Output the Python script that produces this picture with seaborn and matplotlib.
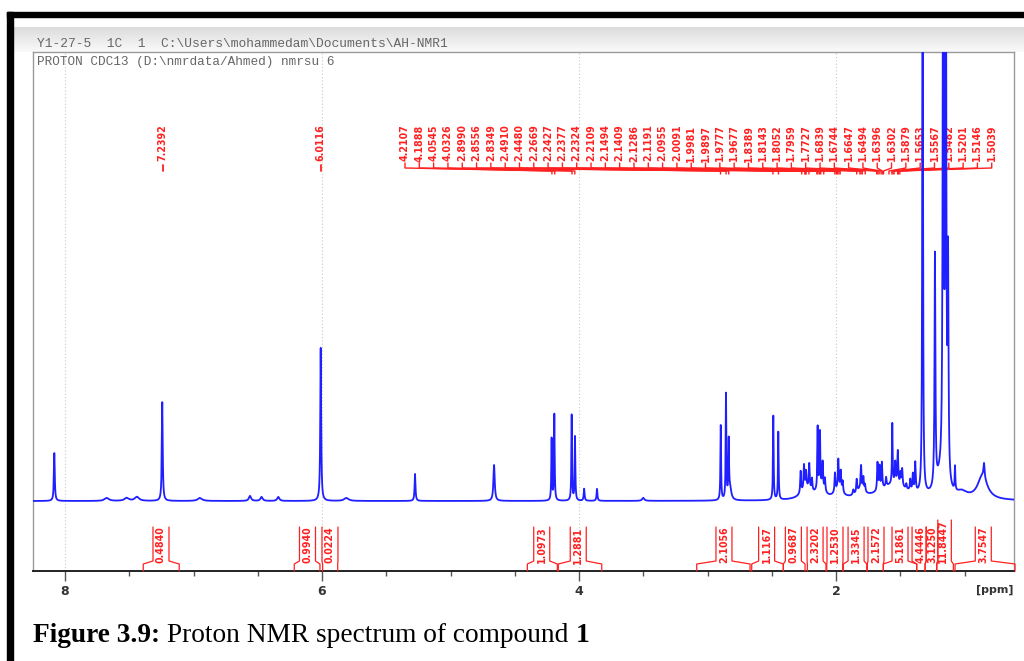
import numpy as np
import pandas as pd
import matplotlib
matplotlib.use("Agg")
import matplotlib.pyplot as plt
import seaborn as sns
import matplotlib.font_manager as fm
from matplotlib.patches import Rectangle
from matplotlib.transforms import blended_transform_factory

# ---------------- data ----------------
peak_ppm = [8.083, 7.675, 7.52, 7.44, 7.243, 6.95, 6.56, 6.47, 6.34, 6.010, 5.81,
            5.276, 4.661, 4.213, 4.192, 4.057, 4.031, 3.96, 3.86, 3.50,
            2.897, 2.856, 2.835, 2.825, 2.488, 2.449,
            2.275, 2.249, 2.233, 2.208, 2.187, 2.23,
            2.143, 2.125, 2.104, 2.086, 2.12,
            2.008, 1.982, 1.963, 1.948, 1.98,
            1.865, 1.839, 1.805, 1.787, 1.774, 1.81,
            1.55, 1.677, 1.661, 1.643, 1.610, 1.562, 1.539, 1.519, 1.498, 1.485,
            1.453, 1.422, 1.402, 1.383,
            1.326, 1.23, 1.19, 1.166, 1.146, 1.128, 1.074, 1.02,
            0.848, 0.86]
peak_height = [48, 3, 3, 4, 99, 3, 5, 4, 4, 153, 3,
               27, 36, 62, 86, 86, 64, 12, 12, 3,
               75, 105, 55, 12, 84, 68,
               22, 24, 16, 25, 12, 11,
               62, 54, 26, 13, 11,
               19, 29, 19, 11, 9,
               5, 13, 23, 13, 7, 8,
               16, 28, 23, 26, 9, 60, 21, 33, 12, 17,
               5, 11, 17, 29,
               700, 232, 18, 700, 700, 215, 24, 6,
               14, 24]
peak_hwhm = [0.004, 0.02, 0.02, 0.02, 0.004, 0.02, 0.01, 0.01, 0.01, 0.004, 0.02,
             0.004, 0.006, 0.003, 0.003, 0.003, 0.003, 0.004, 0.004, 0.01,
             0.003, 0.003, 0.003, 0.012, 0.003, 0.003,
             0.004, 0.004, 0.004, 0.004, 0.004, 0.05,
             0.003, 0.003, 0.004, 0.004, 0.035,
             0.004, 0.004, 0.004, 0.004, 0.035,
             0.005, 0.004, 0.004, 0.004, 0.004, 0.035,
             0.13, 0.004, 0.004, 0.004, 0.004, 0.003, 0.004, 0.004, 0.004, 0.004,
             0.004, 0.004, 0.004, 0.004,
             0.003, 0.004, 0.04, 0.004, 0.004, 0.004, 0.003, 0.05,
             0.005, 0.045]

multi_labels = [4.2107, 4.1888, 4.0545, 4.0326, 2.8990, 2.8556, 2.8349, 2.4910,
                2.4480, 2.2669, 2.2427, 2.2377, 2.2324, 2.2109, 2.1494, 2.1409,
                2.1286, 2.1191, 2.0955, 2.0091, 1.9981, 1.9897, 1.9777, 1.9677,
                1.8389, 1.8143, 1.8052, 1.7959, 1.7727, 1.6839, 1.6744, 1.6647,
                1.6494, 1.6396, 1.6302, 1.5879, 1.5653, 1.5567, 1.5482, 1.5201,
                1.5146, 1.5039]
single_labels = [7.2392, 6.0116]

integ_start = [7.391, 6.216, 5.995, 4.402, 4.161, 3.084, 2.656, 2.410, 2.223,
               2.072, 1.943, 1.756, 1.632, 1.372, 1.307, 1.216, 1.074]
integ_end = [7.111, 6.016, 5.878, 4.169, 3.823, 2.669, 2.410, 2.241, 2.078,
             1.948, 1.761, 1.632, 1.372, 1.307, 1.216, 1.087, 0.607]
integ_center = [7.253, 6.113, 5.938, 4.290, 4.006, 2.872, 2.540, 2.332, 2.163,
                2.008, 1.844, 1.689, 1.502, 1.346, 1.251, 1.165, 0.854]
integ_value = [0.4840, 0.9940, 0.0224, 1.0973, 1.2881, 2.1056, 1.1167, 0.9687,
               2.3202, 1.2530, 1.3345, 2.1572, 5.1861, 4.4446, 3.1250, 11.8447,
               3.7547]

major_ticks = [8, 6, 4, 2]
header_line1 = "Y1-27-5  1C  1  C:\\Users\\mohammedam\\Documents\\AH-NMR1"
header_line2 = "PROTON CDC13 (D:\\nmrdata/Ahmed) nmrsu 6"
caption_parts = [("Figure 3.9:", "bold"), (" Proton NMR spectrum of compound ", "normal"), ("1", "bold")]

# ---------------- build spectrum from peak list ----------------
ppm = np.arange(0.60, 8.26, 0.0004)
spec = np.zeros_like(ppm)
for c, h, w in zip(peak_ppm, peak_height, peak_hwhm):
    spec += h * w**2 / ((ppm - c)**2 + w**2)
df = pd.DataFrame({"ppm": ppm, "I": spec})

# ---------------- styling ----------------
sns.set_theme(style="white")
plt.rcParams["font.family"] = ["DejaVu Sans"]

def pick(fams):
    for f in fams:
        try:
            fm.findfont(fm.FontProperties(family=f), fallback_to_default=False)
            return f
        except Exception:
            pass
    return "DejaVu Sans"

narrow = pick(["Liberation Sans Narrow", "Arial Narrow", "DejaVu Sans Condensed", "DejaVu Sans"])
serif = pick(["Liberation Serif", "DejaVu Serif"])
mono = pick(["Liberation Mono", "DejaVu Sans Mono"])

W, H = 1024, 661
fig = plt.figure(figsize=(W / 100, H / 100), dpi=100)
fig.patch.set_facecolor("white")
renderer = fig.canvas.get_renderer()

def fit_size(text, family, weight, target_px, base=10.0):
    t = fig.text(0, 0, text, family=family, weight=weight, fontsize=base)
    wpx = t.get_window_extent(renderer).width
    t.remove()
    return base * target_px / wpx

RED = "#ff2020"
BLUE = "#1f1fff"

# header gradient band
bg = fig.add_axes([13 / W, 1 - 52 / H, 1 - 13 / W, (52 - 27) / H], zorder=0)
grad = np.linspace(0.86, 0.98, 50).reshape(-1, 1)
bg.imshow(grad, aspect="auto", cmap="gray", vmin=0, vmax=1, extent=[0, 1, 0, 1], origin="upper")
bg.set_axis_off()

# outer black frame
fig.patches.append(Rectangle((7 / W, 1 - 17 / H), 1 - 7 / W, 5 / H, transform=fig.transFigure,
                             color="black", zorder=5))
fig.patches.append(Rectangle((7 / W, 0), 6 / W, 1 - 12 / H, transform=fig.transFigure,
                             color="black", zorder=5))

# header texts
fs_mono = fit_size(header_line1, mono, "normal", 413)
fig.text(37 / W, 1 - 44 / H, header_line1, family=mono, fontsize=fs_mono, color="#666666",
         va="center", ha="left", zorder=6)

# main axes
ax = fig.add_axes([33 / W, 1 - 571 / H, (1014 - 33) / W, (571 - 52) / H], zorder=2)
ax.set_facecolor("white")
sns.lineplot(data=df, x="ppm", y="I", ax=ax, color=BLUE, lw=1.3, estimator=None, sort=False, zorder=4)
ax.set_xlim(8.249, 0.615)
ax.set_ylim(-70, 449)
ax.set_xlabel("")
ax.set_ylabel("")
ax.set_yticks([])
ax.set_xticks(major_ticks)
ax.set_xticks(np.arange(1.0, 8.01, 0.5), minor=True)
ax.set_xticklabels([str(t) for t in major_ticks], fontweight="bold", fontsize=9, color="#333333")
ax.tick_params(axis="x", which="major", direction="out", length=7, width=1, color="#555555", pad=3, bottom=True)
ax.tick_params(axis="x", which="minor", direction="out", length=3.5, width=1, color="#555555", bottom=True)
for s in ["left", "top", "right"]:
    ax.spines[s].set_color("#9a9a9a")
    ax.spines[s].set_linewidth(1.0)
ax.spines["bottom"].set_color("#222222")
ax.spines["bottom"].set_linewidth(1.4)
for t in major_ticks:
    ax.axvline(t, color="#c8c8c8", lw=0.8, ls=(0, (1, 2)), zorder=1)

fs_mono2 = fit_size(header_line2, mono, "normal", 301)
ax.text(0.004, 1 - 10 / 519, header_line2, transform=ax.transAxes, family=mono,
        fontsize=fs_mono2, color="#666666", va="center", ha="left")

trans = blended_transform_factory(ax.transData, ax.transAxes)
ax.text(0.763, -(590 - 571) / 519, "[ppm]", transform=trans, ha="center", va="center",
        fontsize=8, fontweight="bold", color="#333333")

# peak labels
fs_lab = fit_size("4.2107", narrow, "bold", 37)
px_per_ppm = 128.5
label_x = np.linspace(8 - (405 - 65) / px_per_ppm, 8 - (991.7 - 65) / px_per_ppm, len(multi_labels))
for lab, lx in zip(multi_labels, label_x):
    ax.text(lx, 358, f"{lab:.4f}", rotation=90, ha="center", va="center", color=RED,
            fontsize=fs_lab, family=narrow, weight="bold", zorder=3)
    ax.plot([lx, lx, lab, lab], [338, 333, 330, 327], color=RED, lw=1.0, zorder=3)
for lab in single_labels:
    ax.text(lab, 358, f"{lab:.4f}", rotation=90, ha="center", va="center", color=RED,
            fontsize=fs_lab, family=narrow, weight="bold", zorder=3)
    ax.plot([lab, lab], [336, 330], color=RED, lw=1.3, zorder=3)

# integrals
hw = 8 / px_per_ppm
for i, (a, b, c, v) in enumerate(zip(integ_start, integ_end, integ_center, integ_value)):
    xl = c + hw
    xr = c - hw
    if i > 0:
        xl = min(xl, (c + integ_center[i - 1]) / 2)
    if i < len(integ_center) - 1:
        xr = max(xr, (c + integ_center[i + 1]) / 2)
    txt = f"{v:.4f}"
    ytop = -26 if len(txt) <= 6 else -19
    ax.plot([a, a, xl, xl], [-70, -63, -60, ytop], color=RED, lw=0.9, zorder=3, clip_on=False)
    ax.plot([b, b, xr, xr], [-70, -63, -60, ytop], color=RED, lw=0.9, zorder=3, clip_on=False)
    ax.text(c, (ytop - 62) / 2, txt, rotation=90, ha="center", va="center", color=RED,
            fontsize=fs_lab, family=narrow, weight="bold", zorder=3)

# caption
base = 16
x0 = 33
tot = 0
for s, wgt in caption_parts:
    t = fig.text(0, 0, s, family=serif, weight=wgt, fontsize=base)
    tot += t.get_window_extent(renderer).width
    t.remove()
fs_cap = base * 557 / tot
xpos = x0
for s, wgt in caption_parts:
    t = fig.text(xpos / W, 1 - 642 / H, s, family=serif, weight=wgt, fontsize=fs_cap,
                 color="black", va="baseline", ha="left")
    xpos += t.get_window_extent(renderer).width

fig.savefig("out.png", dpi=100, facecolor="white")
